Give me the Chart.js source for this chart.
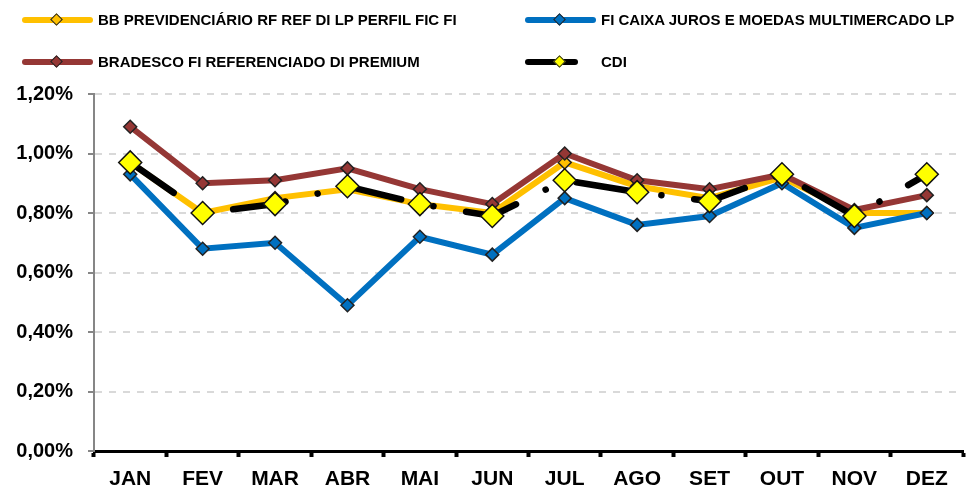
<!DOCTYPE html>
<html>
<head>
<meta charset="utf-8">
<title>Rentabilidade mensal</title>
<script src="https://cdn.jsdelivr.net/npm/chart.js@4"></script>
<style>
  body { margin: 0; background: #fff; }
  #wrap { position: relative; width: 969px; height: 493px; }
  #chart { position: absolute; left: 0; top: 0; }
  .item { position: absolute; height: 20px; font: bold 15px 'Liberation Sans', Arial, sans-serif; color: #000; white-space: nowrap; }
  .sample { position: absolute; top: 7px; height: 6px; border-radius: 3px; }
  .marker { position: absolute; top: 5px; width: 7px; height: 7px; transform: rotate(45deg); border: 1.5px solid #222; }
  .text { position: absolute; top: 1px; }
</style>
</head>
<body>
<div id="wrap">
  <canvas id="chart" width="969" height="493"></canvas>
  <div id="legend"></div>
</div>
<script>
/* Data */
const months = ['JAN', 'FEV', 'MAR', 'ABR', 'MAI', 'JUN', 'JUL', 'AGO', 'SET', 'OUT', 'NOV', 'DEZ'];
const bbPrev   = [0.97, 0.80, 0.85, 0.88, 0.83, 0.80, 0.97, 0.89, 0.85, 0.92, 0.80, 0.80];
const caixa    = [0.93, 0.68, 0.70, 0.49, 0.72, 0.66, 0.85, 0.76, 0.79, 0.90, 0.75, 0.80];
const bradesco = [1.09, 0.90, 0.91, 0.95, 0.88, 0.83, 1.00, 0.91, 0.88, 0.93, 0.81, 0.86];
const cdi      = [0.97, 0.80, 0.83, 0.89, 0.83, 0.79, 0.91, 0.87, 0.84, 0.93, 0.79, 0.93];
const yTicks   = [0, 0.2, 0.4, 0.6, 0.8, 1.0, 1.2];

const FONT = "'Liberation Sans', Arial, sans-serif";

/* Legend (two columns, Excel style) */
const legendItems = [
    { label: 'BB PREVIDENCIÁRIO RF REF DI LP PERFIL FIC FI', line: '#FFC000', marker: '#FFC000', x: 22, y: 10, w: 71 },
    { label: 'FI CAIXA JUROS E MOEDAS MULTIMERCADO LP', line: '#0070C0', marker: '#0070C0', x: 525, y: 10, w: 71 },
    { label: 'BRADESCO FI REFERENCIADO DI PREMIUM', line: '#953735', marker: '#953735', x: 22, y: 52, w: 71 },
    { label: 'CDI', line: '#000000', marker: '#FFFF00', x: 525, y: 52, w: 53 }
];
const legend = document.getElementById('legend');
legendItems.forEach(it => {
    const el = document.createElement('div');
    el.className = 'item';
    el.style.left = it.x + 'px';
    el.style.top = it.y + 'px';
    el.innerHTML =
        '<div class="sample" style="left:0;width:' + it.w + 'px;background:' + it.line + '"></div>' +
        '<div class="marker" style="left:30px;background:' + it.marker + '"></div>' +
        '<div class="text" style="left:76px">' + it.label + '</div>';
    legend.appendChild(el);
});

/* Chart */
const pct = v => v.toFixed(2).replace('.', ',') + '%';

new Chart(document.getElementById('chart'), {
    type: 'line',
    data: {
        labels: months,
        datasets: [
            {
                label: 'BB PREVIDENCIÁRIO RF REF DI LP PERFIL FIC FI',
                data: bbPrev,
                borderColor: '#FFC000',
                backgroundColor: '#FFC000',
                pointBorderColor: '#222',
                order: 3
            },
            {
                label: 'FI CAIXA JUROS E MOEDAS MULTIMERCADO LP',
                data: caixa,
                borderColor: '#0070C0',
                backgroundColor: '#0070C0',
                pointBorderColor: '#222',
                order: 2
            },
            {
                label: 'BRADESCO FI REFERENCIADO DI PREMIUM',
                data: bradesco,
                borderColor: '#953735',
                backgroundColor: '#953735',
                pointBorderColor: '#222',
                order: 1
            },
            {
                label: 'CDI',
                data: cdi,
                borderColor: '#000',
                backgroundColor: '#FFFF00',
                pointBorderColor: '#111',
                borderDash: [53, 33, 0.1, 33], // long dash - dot
                borderCapStyle: 'round',
                borderWidth: 6.5,
                pointRadius: 11.5,
                order: 0
            }
        ]
    },
    options: {
        responsive: false,
        animation: false,
        layout: { autoPadding: false, padding: { top: 94, right: 6, left: 0, bottom: 0 } },
        elements: {
            line: { borderWidth: 6, tension: 0 },
            point: { pointStyle: 'rectRot', radius: 6.5 }
        },
        datasets: { line: { pointBorderWidth: 1.5, clip: false } },
        plugins: {
            legend: { display: false },
            tooltip: { enabled: false }
        },
        scales: {
            x: {
                offset: true,
                afterFit: s => { s.height = 42; },
                grid: { drawOnChartArea: false, offset: true, tickLength: 6, tickWidth: 4, tickColor: '#000' },
                border: { color: '#000', width: 3 },
                ticks: { color: '#000', padding: 10, font: { family: FONT, size: 21, weight: 'bold' } }
            },
            y: {
                min: 0,
                max: 1.2,
                afterFit: s => { s.width = 94; },
                afterBuildTicks: s => { s.ticks = yTicks.map(v => ({ value: v })); },
                grid: { color: '#D9D9D9', lineWidth: 2, tickLength: 6, tickWidth: 2, tickColor: '#868686', tickBorderDash: [] },
                border: { color: '#868686', width: 2, dash: [7, 7] },
                ticks: {
                    color: '#000',
                    padding: 15,
                    font: { family: FONT, size: 20, weight: 'bold' },
                    callback: v => pct(v)
                }
            }
        }
    }
}); // End Chart
</script>
</body>
</html>
